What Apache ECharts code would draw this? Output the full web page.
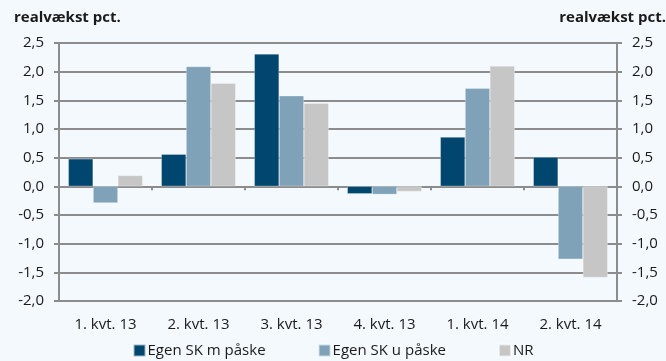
<!DOCTYPE html>
<html>
<head>
<meta charset="utf-8">
<script src="https://cdn.jsdelivr.net/npm/echarts@6/dist/echarts.min.js"></script>
<style>
  html, body { margin: 0; padding: 0; background: #f4f9fd; }
  #chart { width: 666px; height: 361px; }
</style>
</head>
<body>
<div id="chart"></div>
<script>
var categories = ['1. kvt. 13', '2. kvt. 13', '3. kvt. 13', '4. kvt. 13', '1. kvt. 14', '2. kvt. 14']
var egenMed = [0.48, 0.56, 2.31, -0.13, 0.86, 0.51]
var egenUden = [-0.29, 2.09, 1.58, -0.14, 1.71, -1.27]
var nr = [0.19, 1.80, 1.45, -0.09, 2.10, -1.59]
var seriesNames = ['Egen SK m påske', 'Egen SK u påske', 'NR']
var colors = ['#00466e', '#7fa2b8', '#c6c6c6']

var fontFamily = '"Open Sans", "Liberation Sans", sans-serif'
var gridColor = '#8c8c8c'

var chart = echarts.init(document.getElementById('chart'))

function labelFmt(v) {
  return v.toFixed(1).replace('.', ',')
}

function yAxis(pos) {
  return {
    type: 'value',
    position: pos,
    min: -2,
    max: 2.5,
    interval: 0.5,
    axisLine: { show: true, lineStyle: { color: gridColor, width: 2 } },
    axisTick: { show: true, length: 5, lineStyle: { color: gridColor, width: 2 } },
    splitLine: { show: pos === 'left', lineStyle: { color: gridColor, width: 2 } },
    axisLabel: {
      color: '#1a1a1a',
      fontSize: 15,
      fontFamily: fontFamily,
      margin: 15,
      formatter: labelFmt
    }
  }
}

function barSeries(i, data) {
  return {
    name: seriesNames[i],
    type: 'bar',
    data: data,
    barGap: '0%',
    barCategoryGap: '20%',
    itemStyle: { color: colors[i], borderColor: 'rgba(255,255,255,0.6)', borderWidth: 0.5 }
  }
}

chart.setOption({
  backgroundColor: '#f4f9fd',
  animation: false,
  graphic: [
    {
      type: 'text', left: 14, top: 10,
      style: { text: 'realvækst pct.', font: 'bold 15px ' + fontFamily, fill: '#1a1a1a' }
    },
    {
      type: 'text', right: 0, top: 10,
      style: { text: 'realvækst pct.', font: 'bold 15px ' + fontFamily, fill: '#1a1a1a' }
    }
  ],
  legend: {
    bottom: -2,
    left: 'center',
    itemWidth: 12,
    itemHeight: 12,
    itemGap: 52,
    icon: 'rect',
    textStyle: { color: '#1a1a1a', fontSize: 15, fontFamily: fontFamily, padding: [0, 0, 0, -3] },
    data: seriesNames
  },
  grid: { left: 59, right: 49, top: 43, bottom: 60, containLabel: false },
  xAxis: [
    {
      type: 'category',
      data: categories,
      position: 'bottom',
      axisLine: { onZero: false, show: true, lineStyle: { color: gridColor, width: 2 } },
      axisTick: { show: false },
      axisLabel: { color: '#1a1a1a', fontSize: 15, fontFamily: fontFamily, margin: 16 }
    },
    {
      type: 'category',
      data: categories,
      position: 'bottom',
      axisLine: { onZero: true, show: true, lineStyle: { color: gridColor, width: 2 } },
      axisTick: { show: true, length: 4, inside: false, lineStyle: { color: gridColor, width: 2 } },
      axisLabel: { show: false }
    }
  ],
  yAxis: [yAxis('left'), yAxis('right')],
  series: [
    barSeries(0, egenMed),
    barSeries(1, egenUden),
    barSeries(2, nr)
  ]
})
</script>
</body>
</html>
